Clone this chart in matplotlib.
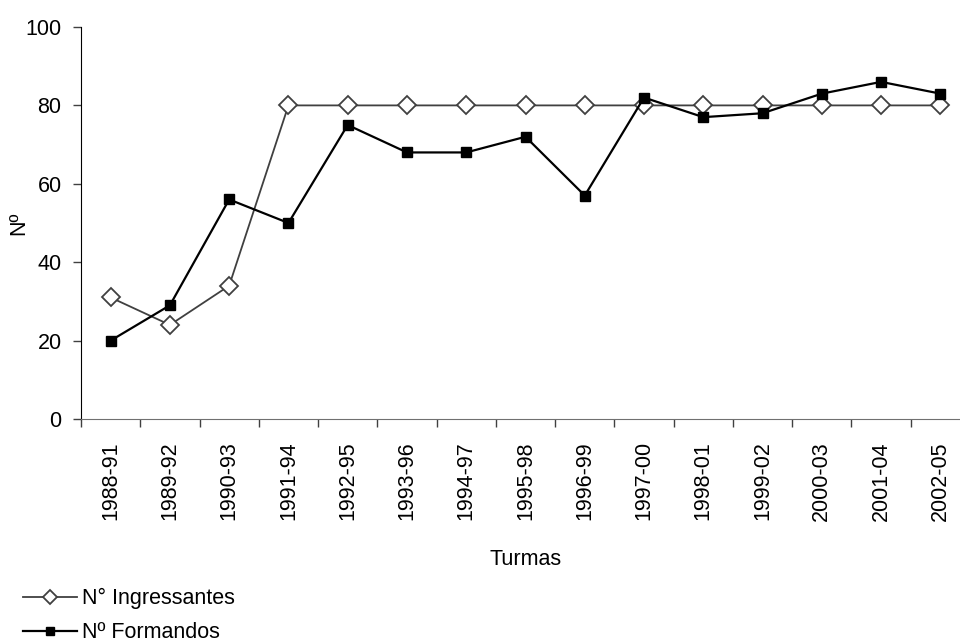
import matplotlib
matplotlib.use("Agg")
import matplotlib.pyplot as plt
from matplotlib.ticker import FixedLocator, NullFormatter, FixedFormatter

plt.rcParams['font.family'] = ['Liberation Sans', 'DejaVu Sans']

turmas = ["1988-91", "1989-92", "1990-93", "1991-94", "1992-95", "1993-96",
          "1994-97", "1995-98", "1996-99", "1997-00", "1998-01", "1999-02",
          "2000-03", "2001-04", "2002-05"]
ingressantes = [31, 24, 34, 80, 80, 80, 80, 80, 80, 80, 80, 80, 80, 80, 80]
formandos = [20, 29, 56, 50, 75, 68, 68, 72, 57, 82, 77, 78, 83, 86, 83]
y_ticks = [0, 20, 40, 60, 80, 100]

FS = 15.5

W, H = 960, 643
fig = plt.figure(figsize=(W / 100, H / 100), dpi=100)
ax = fig.add_axes([81 / W, 1 - 419 / H, (970 - 81) / W, (419 - 27) / H])

x = list(range(len(turmas)))
ax.plot(x, ingressantes, color='#404040', lw=1.3, marker='D', ms=9.5,
        mfc='white', mec='#404040', mew=1.3, label='N° Ingressantes', zorder=3)
ax.plot(x, formandos, color='black', lw=1.6, marker='s', ms=7.5,
        mfc='black', mec='black', label='Nº Formandos', zorder=4)

ax.set_xlim(-0.5, len(turmas) - 0.5)
ax.set_ylim(0, 100)
ax.set_yticks(y_ticks)

# category boundaries carry the tick marks, centres carry the labels
ax.xaxis.set_major_locator(FixedLocator([i - 0.5 for i in range(len(turmas) + 1)]))
ax.xaxis.set_major_formatter(NullFormatter())
ax.xaxis.set_minor_locator(FixedLocator(x))
ax.xaxis.set_minor_formatter(FixedFormatter(turmas))
ax.tick_params(axis='x', which='major', direction='out', length=6, width=1, color='#404040')
ax.tick_params(axis='x', which='minor', length=0, labelsize=FS, labelrotation=90, pad=16)
ax.tick_params(axis='y', direction='out', length=6, width=1, labelsize=FS,
               color='#404040', pad=8)

for s in ('top', 'right'):
    ax.spines[s].set_visible(False)
ax.spines['left'].set_color('black')
ax.spines['bottom'].set_color('#707070')

ax.set_xlabel('Turmas', fontsize=FS, labelpad=20)
ax.set_ylabel('Nº', fontsize=FS, rotation=90, va='center', ha='center')
ax.yaxis.set_label_coords((19 - 81) / (970 - 81), 0.5)

leg = fig.legend(loc='upper left', bbox_to_anchor=(23 / W, 1 - 588 / H), frameon=False,
                 fontsize=FS, handlelength=2.5, handletextpad=0.25, labelspacing=0.62,
                 borderaxespad=0, borderpad=0, markerscale=0.7)

fig.savefig('out.png', dpi=100)
